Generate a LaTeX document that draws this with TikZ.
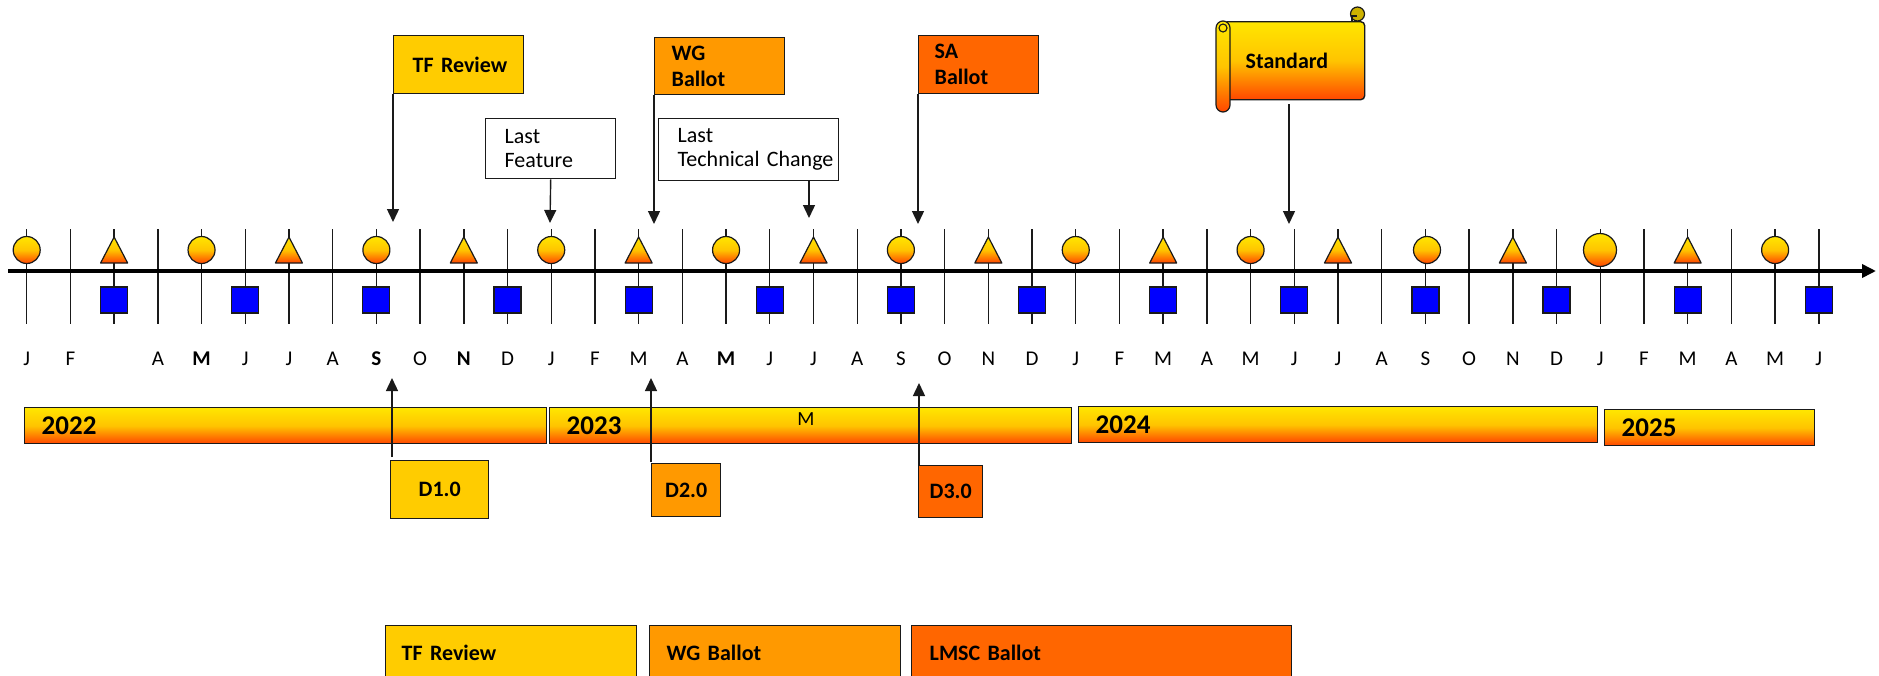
\documentclass[tikz,border=0pt]{standalone}
\usepackage{fontspec}
\setmainfont{Carlito}
\usetikzlibrary{arrows.meta,calc}
\definecolor{tfc}{HTML}{FFCC00}
\definecolor{wgc}{HTML}{FF9900}
\definecolor{sac}{HTML}{FF6600}
\definecolor{gtop}{HTML}{FFE600}
\definecolor{gmid}{HTML}{FFC400}
\definecolor{gbot}{HTML}{FF4600}
\definecolor{bluesq}{HTML}{0000FF}
\definecolor{edge}{HTML}{1A1A1A}
\definecolor{curlc}{HTML}{CDB200}
\hyphenpenalty=10000
\exhyphenpenalty=10000
\begin{document}
\begin{tikzpicture}[x=1pt,y=-1pt,
  grad/.style={top color=gtop,bottom color=gbot,middle color=gmid},
  tickline/.style={line width=1.4pt,draw=edge},
  axisline/.style={line width=3.5pt,draw=black,-{Triangle[length=14pt,width=13pt]}},
  arr/.style={line width=1.4pt,draw=edge,-{Triangle[length=13pt,width=12pt]}},
  mon/.style={font=\fontsize{21}{24}\selectfont,inner sep=0pt},
  circmark/.style={circle,draw=edge,line width=1.2pt,grad,minimum size=27pt,inner sep=0pt},
  sqmark/.style={rectangle,draw=edge,line width=1.2pt,fill=bluesq,minimum width=27pt,minimum height=26pt,inner sep=0pt},
  tbox/.style={draw=edge,line width=1.4pt,anchor=north west,inner ysep=0pt,align=left,font=\bfseries\fontsize{22}{26}\selectfont},
  nbox/.style={draw=edge,line width=1.4pt,anchor=north west,inner ysep=0pt,align=left,fill=white,font=\fontsize{22}{24}\selectfont},
  ybar/.style={grad,draw=edge,line width=1.4pt,anchor=north west,inner ysep=0pt,inner xsep=17pt,minimum height=36pt,align=left,font=\bfseries\fontsize{27}{30}\selectfont},
  dbox/.style={draw=edge,line width=1.4pt,anchor=north west,inner sep=0pt,font=\bfseries\fontsize{22}{26}\selectfont}
]
\useasboundingbox (0,0) rectangle (1879,675);

% ticks
\foreach \i in {0,...,41}{
  \pgfmathsetmacro\xx{26.7+43.71*\i}
  \draw[tickline] (\xx,229) -- (\xx,324);
}
% axis
\coordinate (axS) at (8,271);
\coordinate (axE) at (1876,271);
\draw[axisline] (axS) -- (axE);

% circles
\foreach \i in {0,4,8,12,16,20,24,28,40}{
  \pgfmathsetmacro\xx{26.7+43.71*\i}
  \node[circmark] (c\i) at (\xx,250) {};
}
\node[circmark] (c32) at (1427,250) {};
\node[circmark,minimum size=33pt] (c36) at (1600,250) {};
% triangles
\foreach \i in {2,6,10,14,18,22,26,30,34,38}{
  \pgfmathsetmacro\xx{26.7+43.71*\i}
  \path[grad,draw=edge,line width=1.2pt,line join=round] (\xx-13.5,263) -- (\xx,237) -- (\xx+13.5,263) -- cycle;
}
% squares
\foreach \i in {2,5,8,11,14,17,20,23,26,29,32,35,38,41}{
  \pgfmathsetmacro\xx{26.7+43.71*\i}
  \node[sqmark] (s\i) at (\xx,300) {};
}
% month labels
\foreach \i/\m in {0/J,1/F,3/A,5/J,6/J,7/A,9/O,11/D,12/J,13/F,14/M,15/A,17/J,18/J,19/A,20/S,21/O,22/N,23/D,24/J,25/F,26/M,27/A,28/M,29/J,30/J,31/A,32/S,33/O,34/N,35/D,36/J,37/F,38/M,39/A,40/M,41/J}{
  \pgfmathsetmacro\xx{26.7+43.71*\i}
  \node[mon] (m\i) at (\xx,359) {\m};
}
\foreach \i/\m in {4/M,8/S,10/N,16/M}{
  \pgfmathsetmacro\xx{26.7+43.71*\i}
  \node[mon,font=\bfseries\fontsize{21}{24}\selectfont] (m\i) at (\xx,359) {\m};
}

% top boxes
\node[tbox,fill=tfc,minimum width=130pt,minimum height=58pt,inner xsep=19pt,text width=92pt] (tf) at (393,35) {\mbox{TF Review}};
\node[tbox,fill=wgc,minimum width=130pt,minimum height=57pt,inner xsep=17pt,text width=96pt] (wg) at (654,37) {WG\\Ballot};
\node[tbox,fill=sac,minimum width=120pt,minimum height=58pt,inner xsep=16pt,text width=88pt] (sa) at (918,35) {SA\\Ballot};
\node[nbox,minimum width=130pt,minimum height=60pt,inner xsep=19pt,text width=92pt] (lf) at (485,118) {Last\\Feature};
\node[nbox,minimum width=180pt,minimum height=62pt,inner xsep=19pt,text width=142pt] (ltc) at (658,118) {Last\\\mbox{Technical Change}};

% standard scroll
\node[tbox,grad,rounded corners=4pt,minimum width=141pt,minimum height=78pt,inner xsep=22pt,text width=97pt] (std) at (1223,21) {Standard};
\filldraw[draw=edge,fill=curlc,line width=1.2pt] (1357.5,14) circle[radius=7];
\draw[edge,line width=1.1pt] (1352,21) -- (1352,16) -- (1357,16);
\path[grad,draw=edge,line width=1.2pt,rounded corners=7pt] (1216,21) rectangle (1230,112);
\draw[edge,line width=1.1pt] (1223,28) circle[radius=4];

% year bars
\node[ybar,minimum width=522pt,text width=488pt] (y22) at (24,407) {2022};
\node[ybar,minimum width=522pt,text width=488pt] (y23) at (549,407) {2023};
\node[ybar,minimum width=519pt,text width=485pt] (y24) at (1078,406) {2024};
\node[ybar,minimum width=210pt,text width=176pt] (y25) at (1604,409) {2025};
\node[font=\fontsize{20}{24}\selectfont,inner sep=0pt] (m23) at (806,419) {M};

% D boxes
\node[dbox,fill=tfc,minimum width=98pt,minimum height=58pt] (d1) at (390,460) {D1.0};
\node[dbox,fill=wgc,minimum width=69pt,minimum height=53pt] (d2) at (651,463) {D2.0};
\node[dbox,fill=sac,minimum width=64pt,minimum height=52pt] (d3) at (918,465) {D3.0};

% legend
\node[tbox,fill=tfc,minimum width=251pt,minimum height=54pt,inner xsep=16pt,text width=219pt] (ltf) at (385,625) {\mbox{TF Review}};
\node[tbox,fill=wgc,minimum width=251pt,minimum height=54pt,inner xsep=17pt,text width=217pt] (lwg) at (649,625) {\mbox{WG Ballot}};
\node[tbox,fill=sac,minimum width=380pt,minimum height=54pt,inner xsep=18pt,text width=344pt] (llm) at (911,625) {\mbox{LMSC Ballot}};

% arrows down
\coordinate (tfTip) at (393,222);
\coordinate (lfTip) at (550,223);
\coordinate (wgTip) at (654,224);
\coordinate (ltcTip) at (809,218);
\coordinate (saTip) at (918,224);
\coordinate (stdTip) at (1289,224);
\draw[arr] (tf.south west) -- (tfTip);
\draw[arr] (lf.south) -- (lfTip);
\draw[arr] (wg.south west) -- (wgTip);
\draw[arr] (ltc.south -| ltcTip) -- (ltcTip);
\draw[arr] (sa.south west) -- (saTip);
\draw[arr,shorten <=4pt] (std.south -| stdTip) -- (stdTip);
% arrows up
\coordinate (d1Tip) at (392,378);
\coordinate (d2Tip) at (651,378);
\coordinate (d3Tip) at (919,383);
\draw[arr,shorten <=3pt] (d1.north -| d1Tip) -- (d1Tip);
\draw[arr,shorten <=1pt] (d2.north -| d2Tip) -- (d2Tip);
\draw[arr] (d3.north -| d3Tip) -- (d3Tip);
\end{tikzpicture}
\end{document}
